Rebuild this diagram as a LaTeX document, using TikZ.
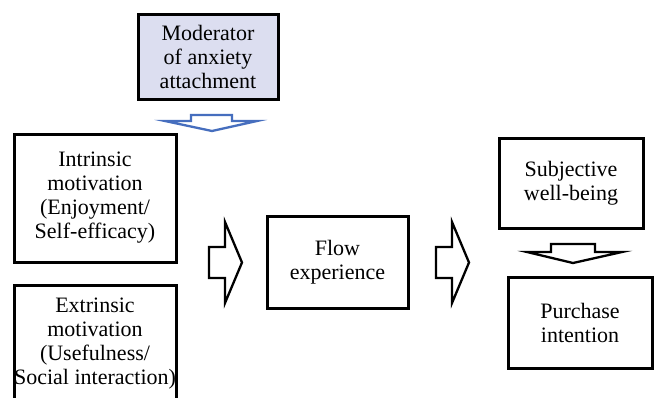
\documentclass[tikz,border=0pt]{standalone}
\usepackage{fontspec}
\setmainfont{Liberation Serif}
\definecolor{modfill}{RGB}{220,222,240}
\definecolor{arrowblue}{RGB}{70,110,190}
\begin{document}
\begin{tikzpicture}[x=1pt,y=-1pt,
  box/.style={draw=black,line width=3pt,fill=white,align=center,inner sep=0pt,
    font=\fontsize{22}{24}\selectfont},
  blockarrow/.style={draw=black,line width=2.3pt,fill=white,line join=miter},
  bluearrow/.style={draw=arrowblue,line width=2.3pt,fill=white,line join=miter}]
\clip (0,0) rectangle (655,397);
\fill[white] (0,0) rectangle (655,397);
% boxes
\node[box,fill=modfill,minimum width=140pt,minimum height=85pt] (mod) at (208,56.5)
  {Moderator\\of anxiety\\attachment};
\node[box,minimum width=162pt,minimum height=128pt] (intr) at (95,198)
  {Intrinsic\\motivation\\(Enjoyment/\\Self-efficacy)};
\node[box,minimum width=162pt,minimum height=118pt] (extr) at (95,344)
  {Extrinsic\\motivation\\(Usefulness/\\Social interaction)};
\node[box,minimum width=141pt,minimum height=92pt] (flow) at (337.5,262)
  {Flow\\experience};
\node[box,minimum width=144pt,minimum height=90pt] (subj) at (571,183)
  {Subjective\\well-being};
\node[box,minimum width=144pt,minimum height=91pt] (purch) at (580,322.5)
  {Purchase\\intention};
% block arrows
\draw[bluearrow] (191,115) -- (232,115) -- (232,121) -- (257,121) -- (212,131)
  -- (165,121) -- (191,121) -- cycle;
\draw[blockarrow] (209,247) -- (225,247) -- (225,222) -- (242,262.5) -- (225,303)
  -- (225,278) -- (209,278) -- cycle;
\draw[blockarrow] (436,247) -- (452,247) -- (452,222) -- (469,262.5) -- (452,303)
  -- (452,278) -- (436,278) -- cycle;
\draw[blockarrow] (551,244) -- (595,244) -- (595,252) -- (622,252) -- (573,263)
  -- (527,252) -- (551,252) -- cycle;
\end{tikzpicture}
\end{document}
